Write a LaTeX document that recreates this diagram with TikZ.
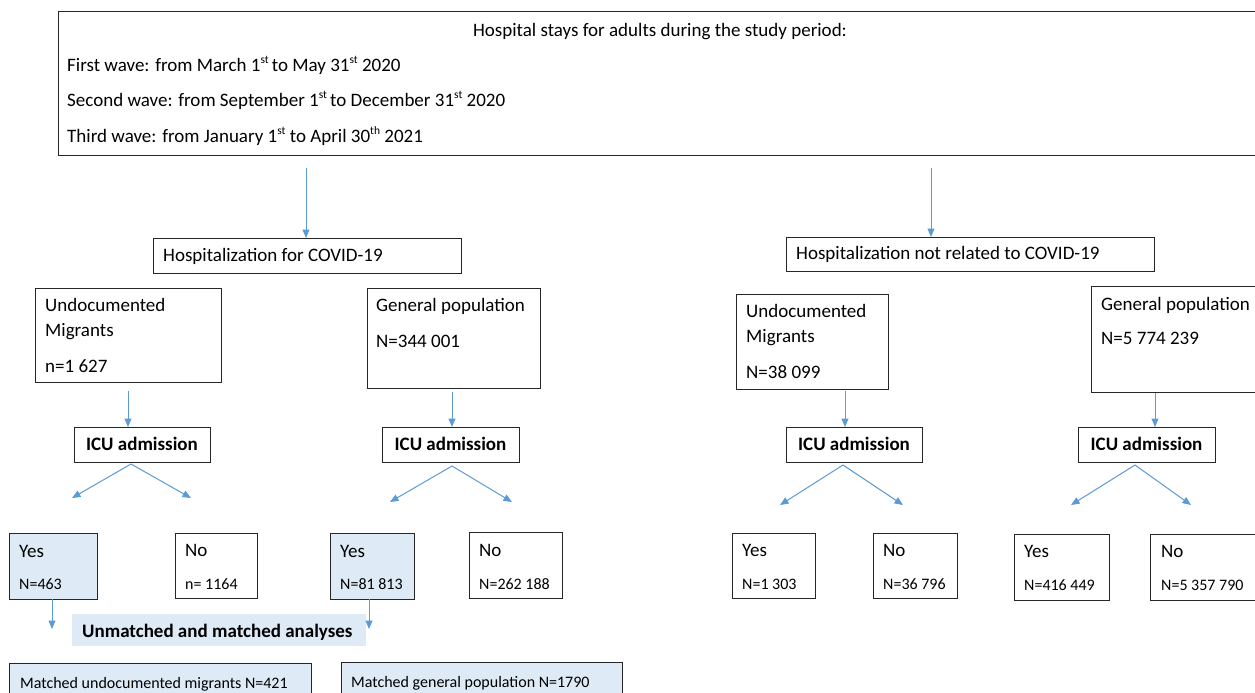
\documentclass[tikz,border=0pt]{standalone}
\usepackage{fontspec}
\setmainfont{Carlito}
\usetikzlibrary{arrows.meta}
\definecolor{arrowblue}{HTML}{5B9BD5}
\definecolor{lightfill}{HTML}{DEEAF6}
\newcommand\mysup[1]{\raisebox{0.42em}{\fontsize{11.5}{12}\selectfont #1}}
\begin{document}
\begin{tikzpicture}[x=1pt,y=-1pt,
  box/.style={draw=black!85, line width=1pt, inner sep=0pt, outer sep=0pt, anchor=north west},
  fbox/.style={box, fill=lightfill},
  txt/.style={anchor=base west, inner sep=0pt, font=\fontsize{19}{22}\selectfont},
  ctxt/.style={txt, anchor=base},
  stxt/.style={anchor=base west, inner sep=0pt, font=\fontsize{16}{19}\selectfont},
  btxt/.style={anchor=base, inner sep=0pt, font=\fontsize{19}{22}\selectfont\bfseries},
  arr/.style={draw=arrowblue, line width=1pt, -{Triangle[length=8.5pt,width=7pt]}}
]
\useasboundingbox (0,0) rectangle (1255,693);

% top box
\node[box, minimum width=1210pt, minimum height=143pt] (top) at (58,12) {};
\node[ctxt] (ttitle) at (660,37) {Hospital stays for adults during the study period:};
\node[txt] (w1) at (67,71) {First wave: from March 1\mysup{st}\,to May 31\mysup{st} 2020};
\node[txt] (w2) at (67,106) {Second wave: from September 1\mysup{st}\,to December 31\mysup{st} 2020};
\node[txt] (w3) at (67,142) {Third wave: from January 1\mysup{st} to April 30\mysup{th} 2021};

\coordinate (a1s) at (306,168);
\coordinate (a2s) at (931,168);

% second level
\node[box, minimum width=308pt, minimum height=35pt] (hc) at (153,238) {};
\node[txt] at (163,261) {Hospitalization for COVID-19};
\node[box, minimum width=368pt, minimum height=34pt] (hn) at (786,237) {};
\node[txt] at (796,259) {Hospitalization not related to COVID-19};
\draw[arr] (a1s) -- (a1s |- hc.north);
\draw[arr] (a2s) -- (a2s |- hn.north);

% population boxes
\node[box, minimum width=186pt, minimum height=94pt] (um1) at (35,288) {};
\node[txt] at (45,311) {Undocumented};
\node[txt] at (45,336) {Migrants};
\node[txt] at (45,372) {n=1 627};

\node[box, minimum width=173pt, minimum height=100pt] (gp1) at (367,288) {};
\node[txt] at (376,311) {General population};
\node[txt] at (376,347) {N=344 001};

\node[box, minimum width=152pt, minimum height=95pt] (um2) at (736,294) {};
\node[txt] at (746,317) {Undocumented};
\node[txt] at (746,342) {Migrants};
\node[txt] at (746,378) {N=38 099};

\node[box, minimum width=180pt, minimum height=106pt] (gp2) at (1091,286) {};
\node[txt] at (1101,310) {General population};
\node[txt] at (1101,344) {N=5 774 239};

% ICU boxes
\node[box, minimum width=136pt, minimum height=35pt] (icu1) at (74,427) {};
\node[btxt] at (icu1.center) [yshift=-6pt] {ICU admission};
\node[box, minimum width=137pt, minimum height=35pt] (icu2) at (382,427) {};
\node[btxt] at (icu2.center) [yshift=-6pt] {ICU admission};
\node[box, minimum width=136pt, minimum height=35pt] (icu3) at (786,427) {};
\node[btxt] at (icu3.center) [yshift=-6pt] {ICU admission};
\node[box, minimum width=137pt, minimum height=35pt] (icu4) at (1078,427) {};
\node[btxt] at (icu4.center) [yshift=-6pt] {ICU admission};

\coordinate (p1) at (128,391);
\coordinate (p2) at (452,392);
\coordinate (p3) at (845,391);
\coordinate (p4) at (1155,393);
\draw[arr] (p1) -- (p1 |- icu1.north);
\draw[arr] (p2) -- (p2 |- icu2.north);
\draw[arr] (p3) -- (p3 |- icu3.north);
\draw[arr] (p4) -- (p4 |- icu4.north);

% forks
\coordinate (f1) at (131,464);
\coordinate (f1l) at (72,498);
\coordinate (f1r) at (191,498);
\coordinate (f2) at (452,466);
\coordinate (f2l) at (390,502);
\coordinate (f2r) at (512,502);
\coordinate (f3) at (843,465);
\coordinate (f3l) at (780,505);
\coordinate (f3r) at (903,505);
\coordinate (f4) at (1135,465);
\coordinate (f4l) at (1071,505);
\coordinate (f4r) at (1191,505);
\foreach \f in {f1,f2,f3,f4}{
  \draw[arr] (\f) -- (\f l);
  \draw[arr] (\f) -- (\f r);
}

% yes / no boxes
\node[fbox, minimum width=88pt, minimum height=66pt] (y1) at (9,533) {};
\node[txt] at (19,557) {Yes};
\node[stxt] at (19,589) {N=463};
\node[box, minimum width=82pt, minimum height=65pt] (n1) at (175,533) {};
\node[txt] at (185,556) {No};
\node[stxt] at (185,589) {n= 1164};

\node[fbox, minimum width=84pt, minimum height=66pt] (y2) at (330,533) {};
\node[txt] at (340,557) {Yes};
\node[stxt] at (340,589) {N=81 813};
\node[box, minimum width=93pt, minimum height=66pt] (n2) at (469,532) {};
\node[txt] at (479,556) {No};
\node[stxt] at (479,589) {N=262 188};

\node[box, minimum width=83pt, minimum height=65pt] (y3) at (732,533) {};
\node[txt] at (742,556) {Yes};
\node[stxt] at (742,589) {N=1 303};
\node[box, minimum width=84pt, minimum height=65pt] (n3) at (873,533) {};
\node[txt] at (883,556) {No};
\node[stxt] at (883,589) {N=36 796};

\node[box, minimum width=95pt, minimum height=66pt] (y4) at (1014,534) {};
\node[txt] at (1024,557) {Yes};
\node[stxt] at (1024,590) {N=416 449};
\node[box, minimum width=110pt, minimum height=66pt] (n4) at (1150,534) {};
\node[txt] at (1161,557) {No};
\node[stxt] at (1161,590) {N=5 357 790};

% analyses
\node[anchor=north west, fill=lightfill, inner sep=0pt, minimum width=294pt, minimum height=32pt] (ua) at (72,614) {};
\node[btxt, anchor=base west] at (82,637) {Unmatched and matched analyses};
\coordinate (q1) at (52,629);
\coordinate (q2) at (369,629);
\draw[arr] (y1.south -| q1) -- (q1);
\draw[arr] (y2.south -| q2) -- (q2);

\node[fbox, minimum width=302pt, minimum height=40pt] (m1) at (9,663) {};
\node[stxt] at (20,688) {Matched undocumented migrants N=421};
\node[fbox, minimum width=281pt, minimum height=40pt] (m2) at (341,662) {};
\node[stxt] at (351,687) {Matched general population N=1790};
\end{tikzpicture}
\end{document}
